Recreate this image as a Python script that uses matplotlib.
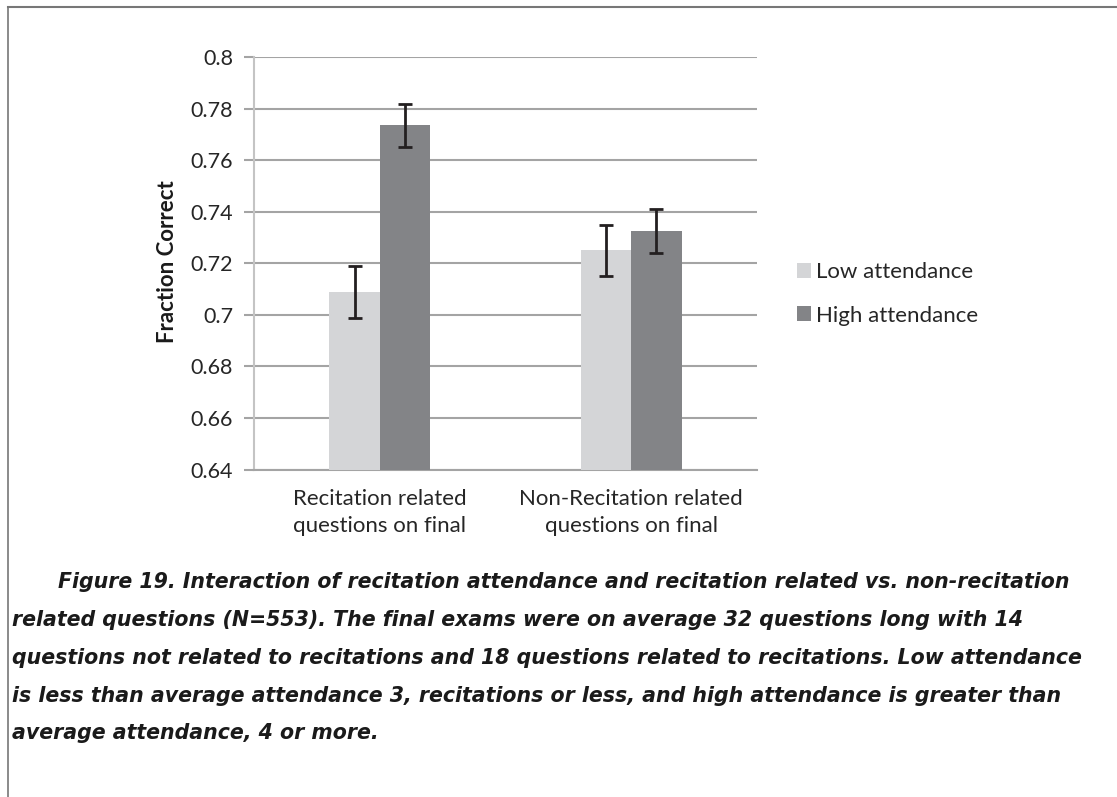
import matplotlib
matplotlib.use('Agg')
import matplotlib.pyplot as plt
from matplotlib.patches import Patch
from matplotlib.lines import Line2D
import numpy as np

# data
categories = ['Recitation related\nquestions on final', 'Non-Recitation related\nquestions on final']
low_att = [0.709, 0.725]
high_att = [0.7735, 0.7325]
low_err = [0.0101, 0.0099]
high_err = [0.0083, 0.0084]
series_names = ['Low attendance', 'High attendance']
yticks = [0.64, 0.66, 0.68, 0.7, 0.72, 0.74, 0.76, 0.78, 0.8]
ytick_labels = ['0.64', '0.66', '0.68', '0.7', '0.72', '0.74', '0.76', '0.78', '0.8']

caption_lines = [
	'Figure 19. Interaction of recitation attendance and recitation related vs. non-recitation',
	'related questions (N=553). The final exams were on average 32 questions long with 14',
	'questions not related to recitations and 18 questions related to recitations. Low attendance',
	'is less than average attendance 3, recitations or less, and high attendance is greater than',
	'average attendance, 4 or more.',
]

LOW_COLOR = '#d4d5d7'
HIGH_COLOR = '#838487'
GRID_COLOR = '#a4a4a4'
FONT = 'Lato'

fig = plt.figure(figsize=(11.17, 7.97), dpi=100)
ax = fig.add_axes([254/1117., 1 - 469.5/797., (757 - 254)/1117., (469.5 - 57)/797.])

x = np.arange(len(categories))
w = 0.2
ax.bar(x - w/2, low_att, w, color=LOW_COLOR, zorder=3)
ax.bar(x + w/2, high_att, w, color=HIGH_COLOR, zorder=3)
ax.errorbar(x - w/2, low_att, yerr=low_err, fmt='none', ecolor='#231f20', elinewidth=2, capsize=5, capthick=2, zorder=4)
ax.errorbar(x + w/2, high_att, yerr=high_err, fmt='none', ecolor='#231f20', elinewidth=2, capsize=5, capthick=2, zorder=4)

ax.set_xlim(-0.5, 1.5)
ax.set_ylim(0.64, 0.8)
ax.set_yticks(yticks)
ax.set_yticklabels(ytick_labels, fontsize=15.5, family=FONT, color='#262626')
ax.set_xticks(x)
ax.set_xticklabels(categories, fontsize=16, family=FONT, color='#262626', linespacing=1.45)
ax.tick_params(axis='x', length=0, pad=14)
ax.tick_params(axis='y', length=7, width=1.5, color=GRID_COLOR, pad=8)
ax.yaxis.grid(True, color=GRID_COLOR, linewidth=1.5, zorder=0)
ax.set_axisbelow(True)
for s in ['top', 'right']:
	ax.spines[s].set_visible(False)
ax.spines['left'].set_color('#c4c4c4')
ax.spines['left'].set_linewidth(1.5)
ax.spines['bottom'].set_color(GRID_COLOR)
ax.spines['bottom'].set_linewidth(1.5)

fig.text(167/1117., 1 - 262/797., 'Fraction Correct', rotation=90, ha='center', va='center',
	fontsize=16, fontweight='bold', family=FONT, color='#1a1a1a')

handles = [Patch(facecolor=LOW_COLOR, edgecolor='none'), Patch(facecolor=HIGH_COLOR, edgecolor='none')]
leg = fig.legend(handles, series_names, loc='center left', bbox_to_anchor=(777/1117., 1 - 294/797.),
	frameon=False, handlelength=0.65, handleheight=0.65, handletextpad=0.2, labelspacing=1.05,
	prop={'family': FONT, 'size': 16})
for t in leg.get_texts():
	t.set_color('#262626')

# caption
y0 = 582.5
for i, line in enumerate(caption_lines):
	xpos = 58 if i == 0 else 12
	fig.text(xpos/1117., 1 - (y0 + i*37.7)/797., line, ha='left', va='center',
		fontsize=14.8, fontweight='bold', style='italic', family='DejaVu Sans', color='#1a1a1a')

# frame lines top and left
fig.add_artist(Line2D([8/1117., 1], [1 - 6.5/797., 1 - 6.5/797.], color='#777777', linewidth=1.5))
fig.add_artist(Line2D([8/1117., 8/1117.], [0, 1 - 6.5/797.], color='#777777', linewidth=1.2))

fig.savefig('out.png', dpi=100)
